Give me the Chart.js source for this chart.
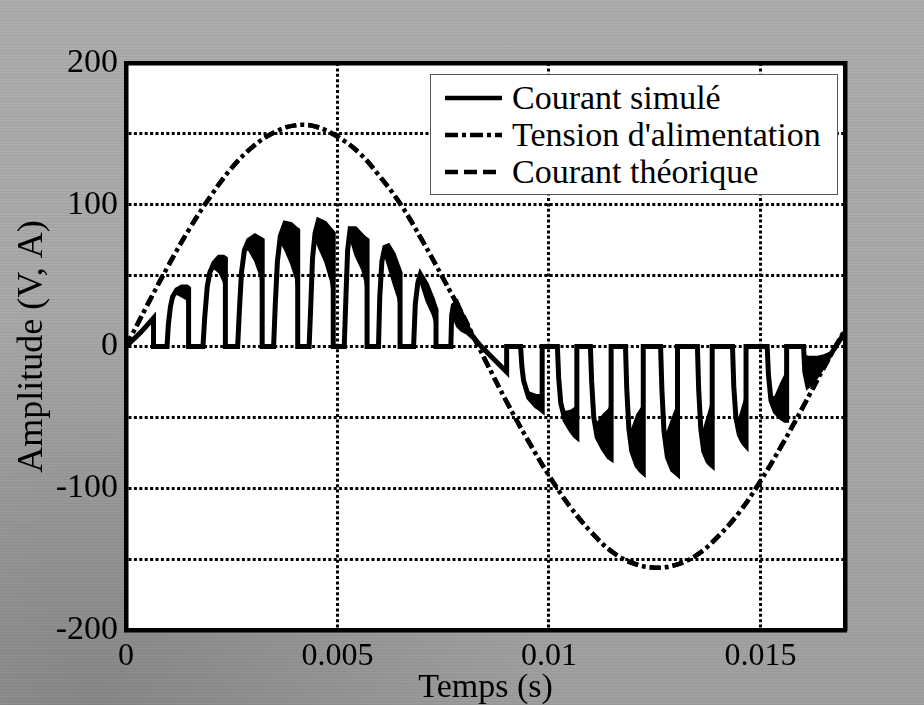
<!DOCTYPE html>
<html>
<head>
<meta charset="utf-8">
<script src="https://cdn.jsdelivr.net/npm/chart.js@4.4.0/dist/chart.umd.min.js"></script>
<style>
html,body{margin:0;padding:0;}
body{width:924px;height:705px;overflow:hidden;position:relative;
  background:
    repeating-linear-gradient(0deg, rgba(0,0,0,0.05) 0px, rgba(0,0,0,0.05) 1px, rgba(255,255,255,0) 1px, rgba(255,255,255,0) 3px),
    radial-gradient(ellipse at 10% 100%, rgba(125,125,125,0.7) 0%, rgba(125,125,125,0) 40%),
    linear-gradient(180deg,#adadad 0%,#a8a8a8 55%,#a0a0a0 100%);}
#c{position:absolute;left:0;top:0;}
#legend{position:absolute;left:430px;top:74px;width:408px;height:121px;background:#fff;border:1.5px solid #555;box-sizing:border-box;
  font-family:"Liberation Serif","Times New Roman",serif;font-size:34px;color:#000;}
.row{position:absolute;left:0;width:100%;height:36px;}
.row svg{position:absolute;left:14px;top:0;}
.row span{position:absolute;left:81px;top:0;line-height:36px;white-space:nowrap;}
</style>
</head>
<body>
<canvas id="c" width="924" height="705"></canvas>
<div id="legend">
  <div class="row" style="top:5px"><svg width="58" height="36"><line x1="0" y1="18" x2="57" y2="18" stroke="#000" stroke-width="4.5"/></svg><span>Courant simulé</span></div>
  <div class="row" style="top:42px"><svg width="58" height="36"><line x1="0" y1="18" x2="57" y2="18" stroke="#000" stroke-width="4.5" stroke-dasharray="13,4,4,4"/></svg><span>Tension d'alimentation</span></div>
  <div class="row" style="top:79px"><svg width="58" height="36"><line x1="0" y1="18" x2="57" y2="18" stroke="#000" stroke-width="4.5" stroke-dasharray="13,6"/></svg><span>Courant théorique</span></div>
</div>
<script>
// ---- Data ----
// Simulated current (outer outline of the chopped waveform), time in ms
const tempsCourantMs = [
  0, 0.35, 0.65, 0.65,
  0.97, 1.00, 1.05, 1.10, 1.20, 1.32, 1.44, 1.48, 1.48,
  1.82, 1.86, 1.92, 1.98, 2.08, 2.20, 2.30, 2.35, 2.35,
  2.64, 2.68, 2.73, 2.80, 2.90, 3.05, 3.17, 3.22, 3.22,
  3.49, 3.53, 3.58, 3.65, 3.76, 3.90, 4.01, 4.06, 4.06,
  4.33, 4.37, 4.41, 4.47, 4.55, 4.70, 4.84, 4.90, 4.90,
  5.16, 5.20, 5.24, 5.30, 5.42, 5.58, 5.65, 5.70, 5.70,
  5.97, 6.00, 6.05, 6.12, 6.20, 6.32, 6.43, 6.48, 6.48,
  6.80, 6.84, 6.90, 6.96, 7.10, 7.25, 7.29, 7.33, 7.33,
  7.68, 7.70, 7.74, 7.82, 7.92, 8.05, 8.20, 8.40, 8.60, 8.80, 9.00, 9.00,
  9.33, 9.36, 9.40, 9.52, 9.70, 9.80, 9.84, 9.84,
  10.20, 10.23, 10.28, 10.38, 10.52, 10.62, 10.66, 10.66,
  10.98, 11.01, 11.06, 11.14, 11.28, 11.42, 11.47, 11.47,
  11.81, 11.84, 11.89, 11.96, 12.08, 12.19, 12.23, 12.23,
  12.64, 12.67, 12.72, 12.80, 12.92, 13.00, 13.04, 13.04,
  13.51, 13.54, 13.59, 13.66, 13.76, 13.82, 13.86, 13.86,
  14.34, 14.37, 14.42, 14.50, 14.58, 14.63, 14.66, 14.66,
  15.16, 15.19, 15.25, 15.35, 15.48, 15.58, 15.62, 15.62,
  16.02, 16.05, 16.12, 16.20, 16.35, 16.50, 16.65, 16.80, 17.00
];
const courantSimule = [
  0, 10, 20, 0,
  0, 15, 28, 35, 40, 42, 42, 41, 0,
  0, 20, 42, 52, 59, 63, 63, 62, 0,
  0, 25, 52, 68, 75, 78, 76, 75, 0,
  0, 30, 60, 78, 87, 86, 83, 82, 0,
  0, 30, 62, 80, 89, 87, 82, 80, 0,
  0, 35, 68, 83, 83, 78, 76, 75, 0,
  0, 35, 60, 70, 71, 65, 56, 52, 0,
  0, 30, 45, 51, 44, 33, 29, 26, 0,
  0, 22, 29, 31, 24, 15, 7, 0, -6, -12, -18, 0,
  0, -14, -24, -36, -42, -44, -45, 0,
  0, -22, -40, -52, -59, -63, -64, 0,
  0, -25, -50, -64, -72, -78, -79, 0,
  0, -30, -58, -74, -84, -88, -89, 0,
  0, -30, -60, -78, -87, -89, -90, 0,
  0, -30, -58, -74, -81, -83, -84, 0,
  0, -28, -50, -62, -67, -69, -70, 0,
  0, -20, -38, -46, -50, -52, -52, 0,
  0, -18, -28, -26, -20, -13, -6, 1, 10
];
// Inner edge of the high-frequency ripple band (the blackened part of each pulse)
const courantOndulation = [
  0, 10, 20, 0,
  0, 15, 28, 35, 37, 35, 33, 26, 0,
  0, 20, 42, 52, 55, 52, 46, 36, 0,
  0, 25, 52, 68, 68, 60, 50, 38, 0,
  0, 30, 60, 74, 68, 58, 48, 36, 0,
  0, 30, 62, 76, 70, 60, 46, 32, 0,
  0, 35, 68, 76, 64, 54, 46, 34, 0,
  0, 35, 60, 64, 56, 44, 34, 24, 0,
  0, 30, 45, 45, 32, 22, 18, 13, 0,
  0, 22, 20, 14, 11, 9, 5, 0, -6, -12, -18, 0,
  0, -14, -24, -32, -34, -34, -32, 0,
  0, -22, -40, -46, -45, -43, -40, 0,
  0, -25, -50, -54, -48, -44, -38, 0,
  0, -30, -58, -58, -48, -43, -37, 0,
  0, -30, -60, -60, -50, -44, -37, 0,
  0, -30, -58, -58, -48, -42, -35, 0,
  0, -28, -50, -50, -42, -37, -30, 0,
  0, -20, -36, -35, -26, -20, -13, 0,
  0, -6, -7, -7, -7, -6, -4, 1, 10
];
// Supply voltage and theoretical current (coincident curves), time in ms
const tempsTensionMs = [0,0.5,1,1.5,2,2.5,3,3.5,4,4.5,5,5.5,6,6.5,7,7.5,8,8.5,9,9.5,10,10.5,11,11.5,12,12.5,13,13.5,14,14.5,15,15.5,16,16.5,17];
const tensionAlimentation = [0,29,57,83,106,126,141,151,156,155,148,137,120,100,75,48,20,-10,-39,-66,-91,-113,-131,-145,-153,-156,-154,-147,-134,-117,-95,-70,-43,-15,12];
const courantTheorique = [0,29,57,83,106,126,141,151,156,155,148,137,120,100,75,48,20,-10,-39,-66,-91,-113,-131,-145,-153,-156,-154,-147,-134,-117,-95,-70,-43,-15,12];
// Axis ticks
const xTicks = [0, 0.005, 0.01, 0.015];
const xTickLabels = ['0', '0.005', '0.01', '0.015'];
const yGridValues = [-200, -150, -100, -50, 0, 50, 100, 150, 200];
const yLabelledValues = [-200, -100, 0, 100, 200];

// ---- Chart ----
const serif = '"Liberation Serif","Times New Roman",serif';
const pts = (ts, vs) => ts.map((t, i) => ({x: t / 1000, y: vs[i]}));

const fondBlanc = {
  id: 'fondBlanc',
  beforeDraw(chart) {
    const {ctx, chartArea: a} = chart;
    ctx.save();
    ctx.fillStyle = '#ffffff';
    ctx.fillRect(a.left, a.top, a.right - a.left, a.bottom - a.top);
    ctx.restore();
  }
};

const gridCommon = {color: '#000', lineWidth: 3, drawTicks: false};
const borderCommon = {display: true, color: '#000', width: 4.5, dash: [3, 2.4]};

new Chart(document.getElementById('c'), {
  type: 'line',
  data: {
    datasets: [
      {label: 'Courant simulé', data: pts(tempsCourantMs, courantSimule), borderColor: '#000', borderWidth: 5, pointRadius: 0, tension: 0, fill: false},
      {label: 'ondulation', data: pts(tempsCourantMs, courantOndulation), borderColor: '#000', borderWidth: 1.5, pointRadius: 0, tension: 0, fill: '-1', backgroundColor: '#000'},
      {label: "Tension d'alimentation", data: pts(tempsTensionMs, tensionAlimentation), borderColor: '#000', borderWidth: 4.5, borderDash: [11, 4, 4, 4], pointRadius: 0, tension: 0.4, fill: false},
      {label: 'Courant théorique', data: pts(tempsTensionMs, courantTheorique), borderColor: '#000', borderWidth: 4.5, borderDash: [11, 12], pointRadius: 0, tension: 0.4, fill: false}
    ]
  },
  options: {
    responsive: false,
    animation: false,
    devicePixelRatio: 1,
    layout: {padding: {left: 0, top: 63, right: 79, bottom: 0}},
    plugins: {legend: {display: false}, tooltip: {enabled: false}},
    scales: {
      x: {
        type: 'linear', position: 'bottom', min: 0, max: 0.017,
        afterBuildTicks: s => { s.ticks = xTicks.map(v => ({value: v})); },
        afterFit: s => { s.height = 75; },
        ticks: {color: '#000', padding: 7, maxRotation: 0, autoSkip: false,
          font: {family: serif, size: 32},
          callback: v => { const i = xTicks.indexOf(v); return i >= 0 ? xTickLabels[i] : ''; }},
        grid: gridCommon,
        border: borderCommon,
        title: {display: true, text: 'Temps (s)', color: '#000', font: {family: serif, size: 34, lineHeight: 1}, padding: {top: 0, bottom: 0}}
      },
      y: {
        type: 'linear', position: 'left', min: -200, max: 200,
        afterBuildTicks: s => { s.ticks = yGridValues.map(v => ({value: v})); },
        afterFit: s => { s.width = 126; },
        ticks: {color: '#000', padding: 8, autoSkip: false,
          font: {family: serif, size: 34},
          callback: v => yLabelledValues.includes(v) ? String(v) : ''},
        grid: gridCommon,
        border: borderCommon,
        title: {display: true, text: 'Amplitude (V, A)', color: '#000', font: {family: serif, size: 36, lineHeight: 1}, padding: {top: 15, bottom: 0}}
      },
      xHaut: {
        type: 'linear', position: 'top', min: 0, max: 0.017,
        afterFit: s => { s.height = 0; },
        ticks: {display: false},
        grid: {display: false},
        border: {display: true, color: '#000', width: 4.5}
      },
      yDroite: {
        type: 'linear', position: 'right', min: -200, max: 200,
        afterFit: s => { s.width = 0; },
        ticks: {display: false},
        grid: {display: false},
        border: {display: true, color: '#000', width: 4.5}
      }
    }
  },
  plugins: [fondBlanc]
});
</script>
</body>
</html>
